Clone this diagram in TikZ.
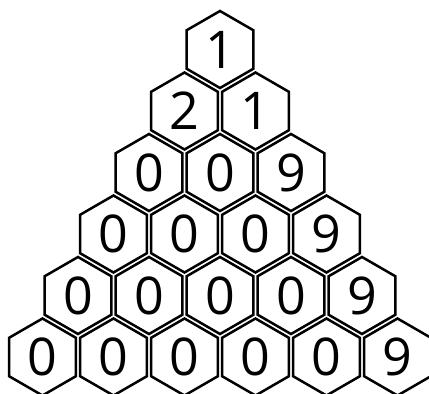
\documentclass[tikz,border=0pt]{standalone}
\usepackage{fontspec}
\setmainfont{Open Sans}
\usetikzlibrary{shapes.geometric}
\tikzset{
  hexcell/.style={draw, regular polygon, regular polygon sides=6, shape border rotate=30,
    minimum size=77pt, inner sep=0pt, line width=2.5pt,
    font=\fontsize{52}{52}\selectfont}
}
\begin{document}
\begin{tikzpicture}[x=1pt, y=-1pt]
    % Frame
    \useasboundingbox (0,0) rectangle (429,394);
    \clip (0,0) rectangle (429,394);
    % Row 1
    \node[hexcell] (h11) at (220, 49.5) {1};
    % Row 2
    \node[hexcell] (h21) at (184.5, 111) {2};
    \node[hexcell] (h22) at (255.5, 111) {1};
    % Row 3
    \node[hexcell] (h31) at (149, 172.5) {0};
    \node[hexcell] (h32) at (220, 172.5) {0};
    \node[hexcell] (h33) at (291, 172.5) {9};
    % Row 4
    \node[hexcell] (h41) at (113.5, 234) {0};
    \node[hexcell] (h42) at (184.5, 234) {0};
    \node[hexcell] (h43) at (255.5, 234) {0};
    \node[hexcell] (h44) at (326.5, 234) {9};
    % Row 5
    \node[hexcell] (h51) at (78, 295.5) {0};
    \node[hexcell] (h52) at (149, 295.5) {0};
    \node[hexcell] (h53) at (220, 295.5) {0};
    \node[hexcell] (h54) at (291, 295.5) {0};
    \node[hexcell] (h55) at (362, 295.5) {9};
    % Row 6
    \node[hexcell] (h61) at (42.5, 357) {0};
    \node[hexcell] (h62) at (113.5, 357) {0};
    \node[hexcell] (h63) at (184.5, 357) {0};
    \node[hexcell] (h64) at (255.5, 357) {0};
    \node[hexcell] (h65) at (326.5, 357) {0};
    \node[hexcell] (h66) at (397.5, 357) {9};
\end{tikzpicture}
\end{document}
